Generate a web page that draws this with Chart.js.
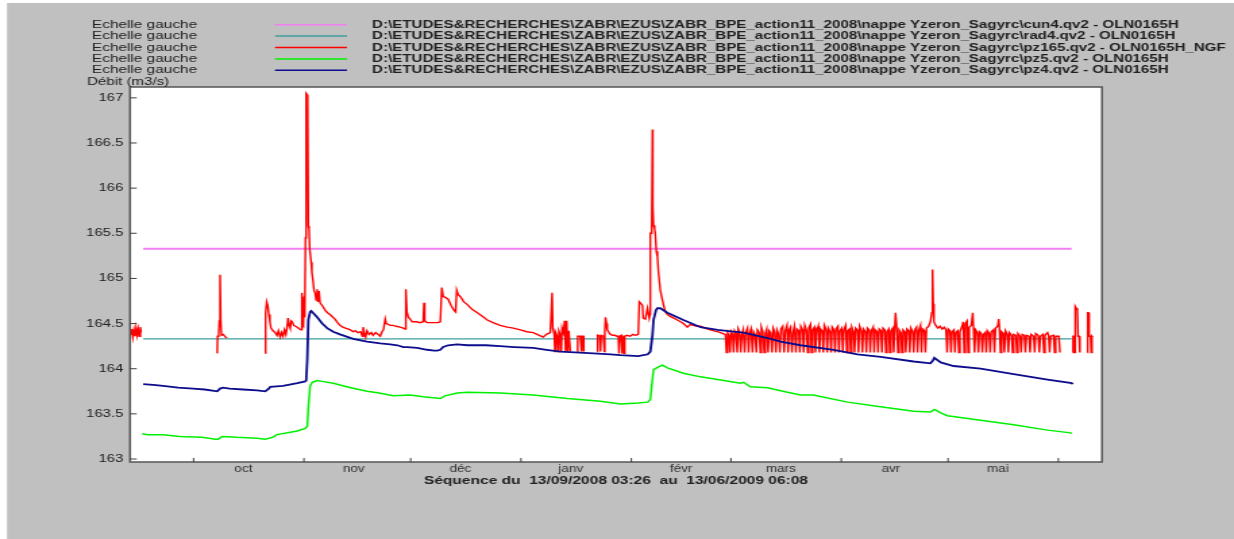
<!DOCTYPE html>
<html>
<head>
<meta charset="utf-8">
<script src="https://cdn.jsdelivr.net/npm/chart.js@4.4.1/dist/chart.umd.min.js"></script>
<style>
html, body { margin: 0; padding: 0; background: #ffffff; overflow: hidden; }
#graph { display: block; }
</style>
</head>
<body>
<!-- the original screenshot is stretched horizontally, so the canvas is drawn narrow and widened by css -->
<canvas id="graph" width="914" height="539" style="width:1234px;height:539px"></canvas>
<script>
// x = days since 13/09/2008 03:26, y = value
const seqStart = Date.UTC(2008, 8, 13, 3, 26);
const seqEnd = Date.UTC(2009, 5, 13, 6, 8);
const monthStarts = ['2008-10-01', '2008-11-01', '2008-12-01', '2009-01-01', '2009-02-01', '2009-03-01', '2009-04-01', '2009-05-01', '2009-06-01'];
const monthLabelDates = ['2008-10-15', '2008-11-15', '2008-12-15', '2009-01-15', '2009-02-15', '2009-03-15', '2009-04-15', '2009-05-15'];
const monthLabels = ['oct', 'nov', 'déc', 'janv', 'févr', 'mars', 'avr', 'mai'];
const yTicks = [163, 163.5, 164, 164.5, 165, 165.5, 166, 166.5, 167];

const seriesNames = ['cun4', 'rad4', 'pz165', 'pz5', 'pz4'];
const seriesFiles = [
    'D:\\ETUDES&RECHERCHES\\ZABR\\EZUS\\ZABR_BPE_action11_2008\\nappe Yzeron_Sagyrc\\cun4.qv2 - OLN0165H',
    'D:\\ETUDES&RECHERCHES\\ZABR\\EZUS\\ZABR_BPE_action11_2008\\nappe Yzeron_Sagyrc\\rad4.qv2 - OLN0165H',
    'D:\\ETUDES&RECHERCHES\\ZABR\\EZUS\\ZABR_BPE_action11_2008\\nappe Yzeron_Sagyrc\\pz165.qv2 - OLN0165H_NGF',
    'D:\\ETUDES&RECHERCHES\\ZABR\\EZUS\\ZABR_BPE_action11_2008\\nappe Yzeron_Sagyrc\\pz5.qv2 - OLN0165H',
    'D:\\ETUDES&RECHERCHES\\ZABR\\EZUS\\ZABR_BPE_action11_2008\\nappe Yzeron_Sagyrc\\pz4.qv2 - OLN0165H'
];
const seriesColors = ['#f27ff2', '#3f9f9f', '#ff0000', '#00f000', '#0c0c8c'];

const cun4 = [[3.7, 165.33], [264.6, 165.33]];
const rad4 = [[3.7, 164.33], [264.6, 164.33]];

const pz165 = [
    [0, 164.45], [0.3, 164.38], [0.5, 164.44], [0.8, 164.35], [1.1, 164.43], [1.4, 164.36], [1.7, 164.45], [2.0, 164.37],
    [2.3, 164.44], [2.6, 164.36], [2.9, 164.46], [3.1, 164.40], [10, null],
    [24.5, 164.17], [24.6, 164.36], [24.9, 164.37], [25.1, 164.53], [25.3, 165.04], [25.5, 164.52], [25.7, 164.37],
    [26.2, 164.38], [26.8, 164.35], [27.3, 164.34], [30, null],
    [38.0, 164.17], [38.1, 164.62], [38.4, 164.74], [38.7, 164.70], [39.0, 164.60], [39.3, 164.52], [39.6, 164.45],
    [40.2, 164.42], [40.8, 164.40], [41.3, 164.37], [41.7, 164.42], [42.2, 164.35], [42.6, 164.40], [43.0, 164.36],
    [43.4, 164.43], [43.8, 164.38], [44.1, 164.45], [44.4, 164.56], [44.7, 164.48], [45.0, 164.45], [45.3, 164.53],
    [45.6, 164.52], [46.0, 164.48], [46.5, 164.47], [47.0, 164.46], [47.6, 164.44], [48.1, 164.43], [48.3, 164.84],
    [48.5, 164.48], [48.7, 164.47], [48.9, 164.80], [49.1, 164.57], [49.3, 165.45], [49.5, 167.05], [49.9, 167.03],
    [50.1, 165.58], [50.3, 165.55], [50.5, 165.32], [50.9, 165.18], [51.1, 165.07], [51.4, 164.98], [51.7, 164.87],
    [52.0, 164.84], [52.3, 164.76], [52.6, 164.88], [52.8, 164.74], [53.1, 164.86], [53.4, 164.73], [54.0, 164.70],
    [54.8, 164.65], [55.5, 164.62], [56.2, 164.60], [57.0, 164.57], [57.6, 164.55], [58.3, 164.51], [59.0, 164.48],
    [59.8, 164.46], [60.5, 164.45], [61.2, 164.44], [61.9, 164.43], [62.7, 164.41], [63.3, 164.42], [64.0, 164.40],
    [64.8, 164.41], [65.3, 164.36], [65.5, 164.46], [65.8, 164.40], [66.2, 164.35], [66.6, 164.42], [67.2, 164.38],
    [67.8, 164.40], [68.3, 164.37], [69.0, 164.40], [69.7, 164.38], [70.3, 164.36], [70.8, 164.41], [71.2, 164.43],
    [71.7, 164.55], [72.0, 164.50], [72.6, 164.49], [73.1, 164.48], [73.9, 164.48], [74.8, 164.47], [75.9, 164.46],
    [76.8, 164.45], [77.3, 164.44], [77.5, 164.88], [77.8, 164.63], [78.2, 164.57], [78.7, 164.55], [79.3, 164.52],
    [80.5, 164.52], [81.5, 164.51], [82.4, 164.52], [82.6, 164.73], [82.8, 164.53], [83.5, 164.51], [85.0, 164.51],
    [86.5, 164.51], [87.2, 164.52], [87.6, 164.90], [88.0, 164.80], [88.6, 164.79], [89.4, 164.77], [90.2, 164.70],
    [91.0, 164.65], [91.5, 164.63], [91.8, 164.87], [92.2, 164.82], [92.8, 164.80], [93.8, 164.74], [94.8, 164.71],
    [96.0, 164.66], [97.6, 164.62], [99.0, 164.58], [100.4, 164.54], [102.0, 164.51], [104.0, 164.48], [106.0, 164.46],
    [107.7, 164.45], [109.7, 164.43], [111.5, 164.41], [113.3, 164.40], [115.0, 164.37], [116.1, 164.35], [117.0, 164.38],
    [118.1, 164.40], [118.6, 164.84], [118.8, 164.45], [119.2, 164.38], [119.4, 164.19], [119.6, 164.40], [120.0, 164.36],
    [120.3, 164.19], [120.5, 164.42], [120.9, 164.38], [121.2, 164.19], [121.4, 164.45], [121.8, 164.40], [122.1, 164.53],
    [122.4, 164.19], [122.7, 164.53], [123.0, 164.19], [123.3, 164.42], [123.7, 164.19], [124.5, null],
    [125.7, 164.19], [125.8, 164.36], [126.5, 164.36], [126.9, 164.19], [127.0, 164.36], [127.4, 164.36], [127.5, 164.19], [129, null],
    [131.3, 164.19], [131.4, 164.37], [132.0, 164.36], [132.2, 164.19], [132.4, 164.37], [133.0, 164.36], [133.3, 164.19],
    [133.4, 164.40], [133.6, 164.57], [133.9, 164.50], [134.1, 164.43], [134.6, 164.40], [135.0, 164.38], [135.6, 164.37],
    [136.2, 164.37], [136.8, 164.36], [137.2, 164.36], [137.4, 164.17], [137.6, 164.36], [138.0, 164.37], [138.3, 164.17],
    [138.5, 164.36], [138.8, 164.17], [139.0, 164.36], [139.6, 164.37], [140.5, 164.36], [141.3, 164.38], [142.0, 164.37],
    [142.8, 164.38], [143.1, 164.74], [143.6, 164.72], [144.0, 164.70], [144.2, 164.56], [144.8, 164.55], [145.4, 164.67],
    [145.9, 164.56], [146.1, 164.60], [146.2, 165.50], [146.6, 165.50], [146.8, 166.65], [146.9, 165.80], [147.1, 165.59],
    [147.4, 165.55], [147.6, 165.50], [147.9, 165.30], [148.2, 165.24], [148.5, 165.06], [148.8, 164.95], [149.0, 164.87],
    [149.6, 164.76], [150.4, 164.63], [151.0, 164.60], [151.8, 164.58], [152.8, 164.56], [153.8, 164.54], [155.5, 164.50],
    [156.6, 164.46], [157.4, 164.49], [158.3, 164.48], [159.3, 164.47], [160.3, 164.47], [161.5, 164.45], [163.1, 164.43],
    [164.0, 164.42], [165.1, 164.41], [165.9, 164.40], [166.6, 164.39], [167.3, 164.38],
    [167.6, 164.18], [167.9, 164.40], [168.3, 164.37], [168.6, 164.18], [168.9, 164.41], [169.3, 164.38], [169.6, 164.18],
    [169.9, 164.42], [170.3, 164.39], [170.6, 164.18], [170.9, 164.44], [171.3, 164.40], [171.6, 164.18], [171.9, 164.37],
    [172.3, 164.43], [172.7, 164.18], [173.0, 164.40], [173.5, 164.45], [173.8, 164.18], [174.1, 164.39], [174.5, 164.44],
    [174.9, 164.18], [175.2, 164.41], [175.6, 164.38], [176.0, 164.18], [176.3, 164.43], [176.8, 164.40], [177.1, 164.18],
    [177.4, 164.46], [177.8, 164.41], [178.2, 164.18], [178.5, 164.39], [178.9, 164.44], [179.3, 164.18], [179.6, 164.42],
    [180.0, 164.40], [180.4, 164.18], [180.7, 164.45], [181.1, 164.41], [181.5, 164.18], [181.8, 164.43], [182.2, 164.39],
    [182.6, 164.18], [182.9, 164.44], [183.4, 164.47], [183.8, 164.18], [184.1, 164.42], [184.6, 164.48], [184.9, 164.18],
    [185.2, 164.43], [185.6, 164.46], [186.0, 164.18], [186.3, 164.40], [186.7, 164.47], [187.1, 164.18], [187.4, 164.44],
    [187.9, 164.42], [188.2, 164.18], [188.5, 164.47], [189.0, 164.43], [189.3, 164.18], [189.6, 164.48], [190.1, 164.42],
    [190.4, 164.18], [190.7, 164.45], [191.2, 164.49], [191.5, 164.18], [191.8, 164.43], [192.3, 164.46], [192.6, 164.18],
    [192.9, 164.41], [193.4, 164.47], [193.7, 164.18], [194.0, 164.44], [194.5, 164.42], [194.8, 164.18], [195.1, 164.48],
    [195.6, 164.43], [195.9, 164.18], [196.2, 164.45], [196.7, 164.41], [197.0, 164.18], [197.3, 164.46], [197.8, 164.43],
    [198.1, 164.18], [198.4, 164.44], [198.9, 164.47], [199.2, 164.18], [199.5, 164.42], [200.0, 164.45], [200.3, 164.18],
    [200.6, 164.43], [201.1, 164.48], [201.4, 164.18], [201.7, 164.42], [202.2, 164.44], [202.5, 164.18], [202.8, 164.46],
    [203.3, 164.41], [203.6, 164.18], [203.9, 164.45], [204.4, 164.43], [204.7, 164.18], [205.0, 164.47], [205.5, 164.42],
    [205.8, 164.18], [206.1, 164.44], [206.6, 164.41], [206.9, 164.18], [207.2, 164.45], [207.7, 164.43], [208.0, 164.18],
    [208.3, 164.42], [208.8, 164.46], [209.1, 164.18], [209.4, 164.43], [209.9, 164.41], [210.2, 164.18], [210.5, 164.44],
    [211.0, 164.42], [211.3, 164.18], [211.6, 164.45], [212.1, 164.43], [212.4, 164.18], [212.7, 164.41], [213.2, 164.44],
    [213.5, 164.18], [213.8, 164.42], [214.3, 164.45], [214.6, 164.18], [214.9, 164.47], [215.1, 164.62], [215.4, 164.48],
    [215.8, 164.18], [216.1, 164.43], [216.6, 164.40], [216.9, 164.18], [217.2, 164.43], [217.7, 164.41], [218.0, 164.18],
    [218.3, 164.44], [218.8, 164.42], [219.1, 164.18], [219.4, 164.45], [219.9, 164.41], [220.2, 164.18], [220.5, 164.43],
    [221.0, 164.46], [221.3, 164.18], [221.6, 164.42], [222.1, 164.48], [222.4, 164.18], [222.7, 164.44], [223.2, 164.42],
    [223.5, 164.18], [223.8, 164.45], [224.4, 164.47], [224.9, 164.52], [225.3, 164.62], [225.5, 165.10], [225.7, 164.72],
    [225.9, 164.52], [226.4, 164.48], [227.0, 164.45], [227.6, 164.47], [228.2, 164.44], [228.8, 164.46], [229.3, 164.43],
    [229.6, 164.18], [229.9, 164.44], [230.4, 164.42], [230.7, 164.18], [231.0, 164.41], [231.5, 164.43], [231.8, 164.18],
    [232.1, 164.40], [232.6, 164.42], [232.9, 164.18], [233.2, 164.41], [233.8, 164.47], [234.1, 164.52], [234.4, 164.18],
    [234.7, 164.50], [235.2, 164.53], [235.5, 164.18], [235.8, 164.46], [236.4, 164.48], [236.8, 164.62], [237.0, 164.45],
    [237.3, 164.18], [237.6, 164.43], [238.1, 164.40], [238.4, 164.18], [238.7, 164.41], [239.2, 164.39], [239.5, 164.18],
    [239.8, 164.38], [240.3, 164.40], [240.6, 164.18], [240.9, 164.42], [241.4, 164.39], [241.7, 164.18], [242.0, 164.41],
    [242.6, 164.43], [242.9, 164.18], [243.2, 164.45], [243.8, 164.47], [244.1, 164.55], [244.3, 164.45], [244.6, 164.18],
    [244.9, 164.41], [245.4, 164.39], [245.7, 164.18], [246.0, 164.42], [246.5, 164.38], [246.8, 164.18], [247.1, 164.40],
    [247.7, 164.37], [248.0, 164.18], [248.3, 164.38], [248.9, 164.37], [249.2, 164.18], [249.5, 164.39], [250.1, 164.36],
    [250.4, 164.18], [250.7, 164.38], [251.3, 164.37], [251.6, 164.18], [251.9, 164.37], [252.6, 164.36], [252.9, 164.18],
    [253.2, 164.38], [253.9, 164.36], [254.2, 164.18], [254.5, 164.39], [255.2, 164.37], [255.5, 164.18], [255.8, 164.36],
    [256.5, 164.38], [256.8, 164.18], [257.1, 164.37], [257.8, 164.40], [258.1, 164.37], [258.4, 164.18], [258.7, 164.36],
    [259.5, 164.37], [259.8, 164.18], [260.1, 164.36], [261.0, 164.36], [261.3, 164.18], [263, null],
    [264.9, 164.18], [265.0, 164.36], [265.3, 164.36], [265.5, 164.18], [265.6, 164.69], [265.9, 164.67], [266.2, 164.65],
    [266.4, 164.36], [266.7, 164.36], [266.9, 164.18], [268, null],
    [269.0, 164.18], [269.1, 164.62], [269.3, 164.62], [269.5, 164.36], [269.9, 164.36], [270.1, 164.18], [270.3, 164.36],
    [270.5, 164.35]
];

const pz5 = [
    [3.4, 163.28], [5.0, 163.27], [9.3, 163.27], [14.0, 163.25], [20.2, 163.24], [24.0, 163.22], [24.8, 163.22],
    [25.9, 163.25], [30.0, 163.24], [35.7, 163.23], [38.0, 163.22], [40.0, 163.24], [41.3, 163.27], [47.0, 163.31],
    [49.2, 163.34], [49.8, 163.36], [50.1, 163.57], [50.6, 163.81], [51.2, 163.85], [52.6, 163.87], [54.0, 163.86],
    [57.1, 163.84], [62.0, 163.79], [66.6, 163.75], [70.0, 163.73], [73.9, 163.70], [78.7, 163.71], [82.4, 163.69],
    [87.2, 163.67], [88.5, 163.70], [91.9, 163.73], [94.8, 163.74], [104.0, 163.73], [113.3, 163.71], [122.9, 163.67],
    [132.2, 163.64], [137.8, 163.61], [142.8, 163.62], [145.5, 163.63], [146.2, 163.66], [146.8, 163.88], [147.1, 163.99],
    [148.5, 164.02], [149.6, 164.04], [151.0, 164.01], [155.5, 163.95], [160.3, 163.91], [165.1, 163.88], [171.5, 163.84],
    [172.4, 163.85], [174.3, 163.80], [179.1, 163.79], [184.7, 163.74], [188.4, 163.71], [192.0, 163.71], [201.6, 163.63],
    [210.9, 163.58], [220.2, 163.53], [224.9, 163.52], [226.0, 163.55], [227.8, 163.51], [229.7, 163.48], [239.0, 163.43],
    [248.3, 163.38], [257.8, 163.32], [264.3, 163.29], [264.6, 163.28]
];

const pz4 = [
    [3.7, 163.83], [6.5, 163.82], [9.3, 163.81], [13.5, 163.79], [17.7, 163.78], [21.0, 163.77], [24.5, 163.75],
    [25.3, 163.78], [26.1, 163.79], [28.0, 163.78], [31.8, 163.77], [35.7, 163.76], [38.0, 163.75], [39.0, 163.78],
    [39.4, 163.80], [43.0, 163.81], [47.0, 163.84], [49.2, 163.86], [49.5, 163.87], [49.8, 164.10], [50.1, 164.54],
    [50.6, 164.63], [50.9, 164.64], [51.4, 164.62], [52.6, 164.57], [54.0, 164.50], [55.4, 164.45], [57.1, 164.41],
    [59.0, 164.38], [62.7, 164.33], [66.6, 164.30], [70.3, 164.28], [73.1, 164.27], [75.1, 164.26], [76.8, 164.24],
    [77.9, 164.24], [80.7, 164.23], [83.5, 164.21], [85.5, 164.20], [86.3, 164.20], [87.2, 164.21], [88.0, 164.24],
    [89.4, 164.26], [91.9, 164.27], [94.8, 164.26], [100.0, 164.26], [104.0, 164.25], [108.0, 164.24], [113.3, 164.23],
    [117.0, 164.21], [120.9, 164.19], [125.0, 164.18], [130.2, 164.17], [135.0, 164.16], [137.8, 164.15], [142.8, 164.14],
    [145.5, 164.16], [146.2, 164.19], [146.8, 164.37], [147.1, 164.54], [147.8, 164.65], [148.2, 164.67], [149.0, 164.67],
    [151.0, 164.62], [155.5, 164.54], [160.3, 164.46], [165.1, 164.43], [169.6, 164.41], [172.4, 164.40], [179.1, 164.34],
    [182.8, 164.30], [188.4, 164.26], [197.7, 164.21], [204.4, 164.16], [210.9, 164.13], [220.2, 164.08], [224.9, 164.06],
    [225.6, 164.09], [226.0, 164.12], [227.8, 164.07], [231.4, 164.03], [239.0, 164.00], [248.3, 163.94], [257.8, 163.88],
    [264.6, 163.84], [264.9, 163.83]
];

const seriesData = [cun4, rad4, pz165, pz5, pz4];
const seriesWidths = [2, 1.3, 1.4, 1.5, 1.8];

const dayOf = s => (Date.parse(s) - seqStart) / 864e5;
const totalDays = (seqEnd - seqStart) / 864e5;
const fontFamily = '"Liberation Sans", Arial, sans-serif';

const decor = {
    id: 'decor',
    beforeDraw(chart) {
        const ctx = chart.ctx;
        const a = chart.chartArea;
        ctx.save();
        ctx.fillStyle = '#ffffff';
        ctx.fillRect(0, 0, chart.width, chart.height);
        ctx.fillStyle = '#c0c0c0';
        ctx.fillRect(5.2, 3, chart.width, chart.height);
        ctx.fillStyle = '#ffffff';
        ctx.fillRect(a.left, a.top, a.right - a.left, a.bottom - a.top);
        ctx.restore();
    },
    afterDraw(chart) {
        const ctx = chart.ctx;
        const a = chart.chartArea;
        const xs = chart.scales.x;
        const ys = chart.scales.y;
        ctx.save();
        // frame
        ctx.strokeStyle = '#555555';
        ctx.lineWidth = 1.5;
        ctx.strokeRect(a.left, a.top, a.right - a.left, a.bottom - a.top);
        // inner ticks
        ctx.lineWidth = 1;
        ctx.strokeStyle = '#404040';
        ctx.beginPath();
        yTicks.forEach(v => {
            const py = ys.getPixelForValue(v);
            ctx.moveTo(a.left, py);
            ctx.lineTo(a.left + 5, py);
        });
        monthStarts.forEach(s => {
            const px = xs.getPixelForValue(dayOf(s));
            ctx.moveTo(px, a.bottom);
            ctx.lineTo(px, a.bottom - 4);
        });
        ctx.stroke();
        // legend
        ctx.textBaseline = 'middle';
        ctx.textAlign = 'left';
        chart.data.datasets.forEach((ds, i) => {
            const y = 24.7 + i * 11.4;
            ctx.font = '11.4px ' + fontFamily;
            ctx.fillStyle = '#202020';
            ctx.fillText('Echelle gauche', 68.1, y);
            ctx.strokeStyle = ds.borderColor;
            ctx.lineWidth = 1.5;
            ctx.beginPath();
            ctx.moveTo(203.7, y);
            ctx.lineTo(257, y);
            ctx.stroke();
            ctx.font = 'bold 11.2px ' + fontFamily;
            ctx.fillText(seriesFiles[i], 275.6, y);
        });
        ctx.font = '11.2px ' + fontFamily;
        ctx.fillText('Débit (m3/s)', 64.4, 81.7);
        ctx.restore();
    }
};

const chart = new Chart(document.getElementById('graph'), {
    type: 'line',
    data: {
        datasets: seriesData.map((d, i) => ({
            label: seriesNames[i],
            data: d,
            borderColor: seriesColors[i],
            borderWidth: seriesWidths[i],
            pointRadius: 0,
            tension: 0,
            spanGaps: false,
            order: seriesData.length - i
        }))
    },
    options: {
        responsive: false,
        animation: false,
        events: [],
        layout: { padding: { top: 87, left: 0, right: 97.8, bottom: 0 } },
        plugins: { legend: { display: false }, tooltip: { enabled: false } },
        scales: {
            x: {
                type: 'linear',
                min: 0,
                max: totalDays,
                afterBuildTicks: s => { s.ticks = monthLabelDates.map(d => ({ value: dayOf(d) })); },
                afterFit: s => { s.height = 77; },
                grid: { display: false, drawTicks: false },
                border: { display: false },
                ticks: {
                    autoSkip: false,
                    maxRotation: 0,
                    padding: 1,
                    color: '#303030',
                    font: { family: fontFamily, size: 10 },
                    callback: (v, i) => monthLabels[i]
                },
                title: {
                    display: true,
                    text: 'Séquence du  13/09/2008 03:26  au  13/06/2009 06:08',
                    color: '#202020',
                    font: { family: fontFamily, size: 11.5, weight: 'bold' },
                    padding: { top: 0, bottom: 51 }
                }
            },
            y: {
                min: 162.967,
                max: 167.12,
                afterBuildTicks: s => { s.ticks = yTicks.map(v => ({ value: v })); },
                afterFit: s => { s.width = 96.3; },
                grid: { display: false, drawTicks: false },
                border: { display: false },
                ticks: {
                    padding: 5,
                    color: '#202020',
                    font: { family: fontFamily, size: 11 },
                    callback: v => String(v)
                }
            }
        }
    },
    plugins: [decor]
});
</script>
</body>
</html>
